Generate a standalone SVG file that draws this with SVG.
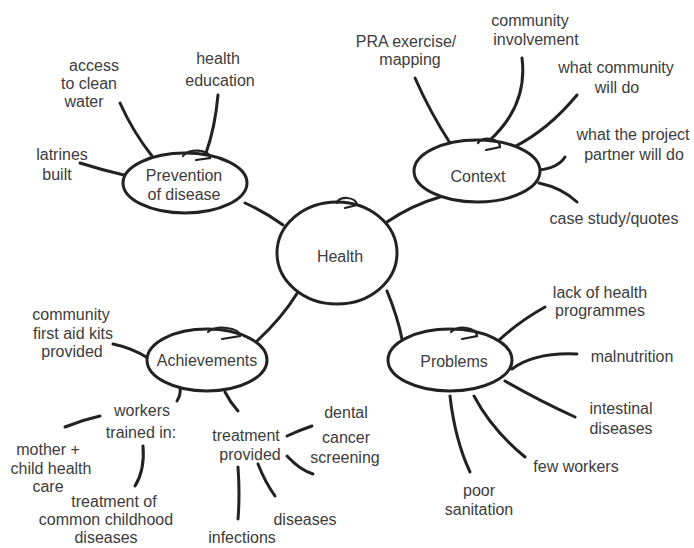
<svg xmlns="http://www.w3.org/2000/svg" width="694" height="548" viewBox="0 0 694 548">
<style>
.t{font-family:"Liberation Sans",Arial,sans-serif;font-size:16px;fill:#3c3c3c}
.m{text-anchor:middle}
.c{fill:none;stroke:#222;stroke-width:3;stroke-linecap:round}
.n{fill:#fff;stroke:#222;stroke-width:3}
.l{fill:none;stroke:#222;stroke-width:2.2;stroke-linecap:round}
</style>
<rect width="694" height="548" fill="#fff"/>
<g id="connectors">
<path class="c" d="M245,203 Q265,212 283,225"/>
<path class="c" d="M387,222 Q412,205 440,197"/>
<path class="c" d="M257,341 Q282,318 298,292"/>
<path class="c" d="M387,291 Q398,318 402,339"/>
<path class="c" d="M80,163 Q102,170 124,175"/>
<path class="c" d="M120,103 Q133,132 152,156"/>
<path class="c" d="M218,95 Q215,128 206,153"/>
<path class="c" d="M415,78 Q430,112 450,143"/>
<path class="c" d="M522,58 Q528,105 490,140"/>
<path class="c" d="M577,95 Q548,130 514,147"/>
<path class="c" d="M565,157 Q558,168 539,170"/>
<path class="c" d="M577,202 Q562,188 539,183"/>
<path class="c" d="M113,344 Q132,348 148,358"/>
<path class="c" d="M180,387 Q181,395 177,401"/>
<path class="c" d="M65,427 Q82,420 100,416"/>
<path class="c" d="M143,446 Q145,470 135,486"/>
<path class="c" d="M225,392 Q230,402 238,411"/>
<path class="c" d="M287,436 Q300,430 312,426"/>
<path class="c" d="M287,456 Q300,470 313,474"/>
<path class="c" d="M258,464 Q265,482 275,496"/>
<path class="c" d="M238,467 Q240,495 238,519"/>
<path class="c" d="M545,307 Q518,322 497,342"/>
<path class="c" d="M577,354 Q535,352 512,369"/>
<path class="c" d="M575,417 Q538,400 505,381"/>
<path class="c" d="M525,457 Q492,430 474,396"/>
<path class="c" d="M470,472 Q455,440 450,396"/>
</g>
<g id="health">
<ellipse class="n" cx="337" cy="253" rx="60" ry="51"/>
<path class="l" d="M337,203 C338,196 356,196 357,205 L345,208"/>
<text class="t m" x="340" y="262">Health</text>
</g>
<g id="prevention">
<ellipse class="n" cx="185" cy="183" rx="62" ry="30"/>
<path class="l" d="M183,156 C188,148 210,149 210,158 L196,160"/>
<text class="t m" x="184" y="181">Prevention</text>
<text class="t m" x="184" y="200">of disease</text>
</g>
<g id="context">
<ellipse class="n" cx="477" cy="171" rx="63" ry="31"/>
<path class="l" d="M478,143 C483,136 500,138 500,147 L486,150"/>
<text class="t m" x="478" y="182">Context</text>
</g>
<g id="achievements">
<ellipse class="n" cx="207" cy="360" rx="60" ry="31"/>
<path class="l" d="M208,332 C216,325 240,327 240,336 L222,339"/>
<text class="t m" x="207" y="366">Achievements</text>
</g>
<g id="problems">
<ellipse class="n" cx="450" cy="360" rx="62" ry="31"/>
<path class="l" d="M451,332 C458,325 477,327 477,336 L462,339"/>
<text class="t m" x="454" y="367">Problems</text>
</g>
<g id="latrines"><text class="t m" x="62" y="160">latrines</text><text class="t m" x="57" y="180">built</text></g>
<g id="water"><text class="t m" x="94" y="71">access</text><text class="t m" x="89" y="89">to clean</text><text class="t m" x="84" y="107">water</text></g>
<g id="education"><text class="t m" x="218" y="64">health</text><text class="t m" x="220" y="86">education</text></g>
<g id="pra"><text class="t m" x="406" y="47">PRA exercise/</text><text class="t m" x="410" y="65">mapping</text></g>
<g id="involvement"><text class="t m" x="530" y="26">community</text><text class="t m" x="536" y="45">involvement</text></g>
<g id="whatcommunity"><text class="t m" x="616" y="73">what community</text><text class="t m" x="617" y="93">will do</text></g>
<g id="whatpartner"><text class="t m" x="633" y="140">what the project</text><text class="t m" x="634" y="160">partner will do</text></g>
<g id="casestudy"><text class="t m" x="614" y="224">case study/quotes</text></g>
<g id="firstaid"><text class="t m" x="71" y="320">community</text><text class="t m" x="73" y="339">first aid kits</text><text class="t m" x="72" y="357">provided</text></g>
<g id="workers"><text class="t m" x="142" y="416">workers</text><text class="t m" x="141" y="438">trained in:</text></g>
<g id="mother"><text class="t m" x="48" y="455">mother +</text><text class="t m" x="51" y="474">child health</text><text class="t m" x="48" y="492">care</text></g>
<g id="childhood"><text class="t m" x="114" y="507">treatment of</text><text class="t m" x="106" y="525">common childhood</text><text class="t m" x="106" y="543">diseases</text></g>
<g id="treatment"><text class="t m" x="246" y="441">treatment</text><text class="t m" x="250" y="460">provided</text></g>
<g id="dental"><text class="t m" x="346" y="418">dental</text></g>
<g id="cancer"><text class="t m" x="346" y="443">cancer</text><text class="t m" x="345" y="463">screening</text></g>
<g id="diseases"><text class="t m" x="305" y="525">diseases</text></g>
<g id="infections"><text class="t m" x="242" y="543">infections</text></g>
<g id="lack"><text class="t m" x="600" y="298">lack of health</text><text class="t m" x="600" y="316">programmes</text></g>
<g id="malnutrition"><text class="t m" x="632" y="362">malnutrition</text></g>
<g id="intestinal"><text class="t m" x="621" y="414">intestinal</text><text class="t m" x="621" y="434">diseases</text></g>
<g id="fewworkers"><text class="t m" x="576" y="472">few workers</text></g>
<g id="sanitation"><text class="t m" x="479" y="496">poor</text><text class="t m" x="479" y="515">sanitation</text></g>
</svg>
